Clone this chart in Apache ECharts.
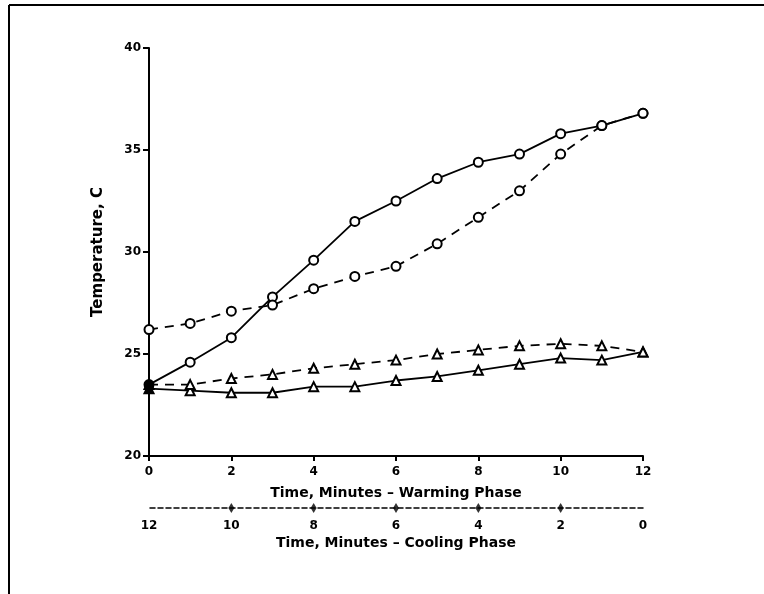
<!DOCTYPE html>
<html>
<head>
<meta charset="utf-8">
<script src="https://cdn.jsdelivr.net/npm/echarts@6/dist/echarts.min.js"></script>
<style>
  html, body { margin: 0; padding: 0; background: #fff; }
  #main { width: 764px; height: 594px; }
</style>
</head>
<body>
<div id="main"></div>
<script>
// warming phase, minutes (left to right)
const warmTime = [0, 1, 2, 3, 4, 5, 6, 7, 8, 9, 10, 11, 12];
// cooling phase, minutes (runs 12 -> 0 left to right)
const coolTime = [12, 11, 10, 9, 8, 7, 6, 5, 4, 3, 2, 1, 0];

const warmCircle = [23.5, 24.6, 25.8, 27.8, 29.6, 31.5, 32.5, 33.6, 34.4, 34.8, 35.8, 36.2, 36.8];
const coolCircle = [26.2, 26.5, 27.1, 27.4, 28.2, 28.8, 29.3, 30.4, 31.7, 33.0, 34.8, 36.2, 36.8];
const warmTriangle = [23.3, 23.2, 23.1, 23.1, 23.4, 23.4, 23.7, 23.9, 24.2, 24.5, 24.8, 24.7, 25.1];
const coolTriangle = [23.5, 23.5, 23.8, 24.0, 24.3, 24.5, 24.7, 25.0, 25.2, 25.4, 25.5, 25.4, 25.1];

const coolTicks = [10, 8, 6, 4, 2];

const FONT = "DejaVu Sans";

function pairs(xs, ys) {
  return xs.map((x, i) => ({ value: [x, ys[i]] }));
}

function mkSeries(name, xIdx, xs, ys, symbol, dashed, fillFirst) {
  const data = pairs(xs, ys);
  if (fillFirst) data[0].itemStyle = { color: "#000" };
  return {
    name: name,
    type: "line",
    xAxisIndex: xIdx,
    yAxisIndex: 0,
    data: data,
    symbol: symbol,
    symbolSize: 9,
    showSymbol: true,
    lineStyle: { color: "#000", width: 1.8, type: dashed ? [9, 7] : "solid" },
    itemStyle: { color: "#fff", borderColor: "#000", borderWidth: 2 },
    z: 3,
  };
}

let chartDom = document.getElementById("main");
let myChart = echarts.init(chartDom);

let option = {
  animation: false,
  backgroundColor: "#fff",
  textStyle: { fontFamily: FONT, fontWeight: "bold", color: "#000" },
  grid: [
    { left: 149, right: 121, top: 48, bottom: 138 },
    { left: 149, right: 121, top: 498, height: 10 },
  ],
  xAxis: [
    {
      //温暖阶段
      gridIndex: 0,
      type: "value",
      min: 0,
      max: 12,
      interval: 2,
      name: "Time, Minutes \u2013 Warming Phase",
      nameLocation: "middle",
      nameGap: 30,
      nameTextStyle: { fontFamily: FONT, fontWeight: "bold", fontSize: 14, color: "#000" },
      axisLine: { onZero: false, lineStyle: { color: "#000", width: 2 } },
      axisTick: { length: 5, lineStyle: { color: "#000", width: 2 } },
      axisLabel: { margin: 10, fontFamily: FONT, fontWeight: "bold", fontSize: 12, color: "#000" },
      splitLine: { show: false },
    },
    {
      //冷却阶段
      gridIndex: 1,
      type: "value",
      min: 0,
      max: 12,
      interval: 2,
      inverse: true,
      position: "bottom",
      name: "Time, Minutes \u2013 Cooling Phase",
      nameLocation: "middle",
      nameGap: 28,
      nameTextStyle: { fontFamily: FONT, fontWeight: "bold", fontSize: 14, color: "#000" },
      axisLine: { onZero: false, lineStyle: { color: "#000", width: 1.5, type: [5, 3] } },
      axisTick: { show: false },
      axisLabel: { margin: 12, fontFamily: FONT, fontWeight: "bold", fontSize: 12, color: "#000" },
      splitLine: { show: false },
    },
    {
      // hidden axis so cooling series use cooling minutes
      gridIndex: 0,
      type: "value",
      min: 0,
      max: 12,
      inverse: true,
      show: false,
    },
  ],
  yAxis: [
    {
      gridIndex: 0,
      type: "value",
      min: 20,
      max: 40,
      interval: 5,
      name: "Temperature, C",
      nameLocation: "middle",
      nameGap: 43,
      nameRotate: 90,
      nameTextStyle: { fontFamily: FONT, fontWeight: "bold", fontSize: 15, color: "#000" },
      axisLine: { show: true, lineStyle: { color: "#000", width: 2 } },
      axisTick: { show: true, length: 6, lineStyle: { color: "#000", width: 2 } },
      axisLabel: { margin: 8, fontFamily: FONT, fontWeight: "bold", fontSize: 12, color: "#000" },
      splitLine: { show: false },
    },
    {
      gridIndex: 1,
      type: "value",
      min: 0,
      max: 1,
      show: false,
    },
  ],
  graphic: [
    {
      type: "line",
      shape: { x1: 9, y1: 5, x2: 764, y2: 5 },
      style: { stroke: "#000", lineWidth: 2 },
    },
    {
      type: "line",
      shape: { x1: 9, y1: 5, x2: 9, y2: 594 },
      style: { stroke: "#000", lineWidth: 2 },
    },
  ],
  series: [
    mkSeries("warm circle", 0, warmTime, warmCircle, "circle", false, true),
    mkSeries("cool circle", 2, coolTime, coolCircle, "circle", true, false),
    mkSeries("warm triangle", 0, warmTime, warmTriangle, "triangle", false, true),
    mkSeries("cool triangle", 2, coolTime, coolTriangle, "triangle", true, true),
    {
      // 冷却轴上的菱形刻度
      name: "cool ticks",
      type: "scatter",
      xAxisIndex: 1,
      yAxisIndex: 1,
      data: coolTicks.map((t) => [t, 0]),
      symbol: "diamond",
      symbolSize: [6, 10],
      itemStyle: { color: "#000" },
      z: 4,
    },
  ],
};

myChart.setOption(option);
</script>
</body>
</html>
